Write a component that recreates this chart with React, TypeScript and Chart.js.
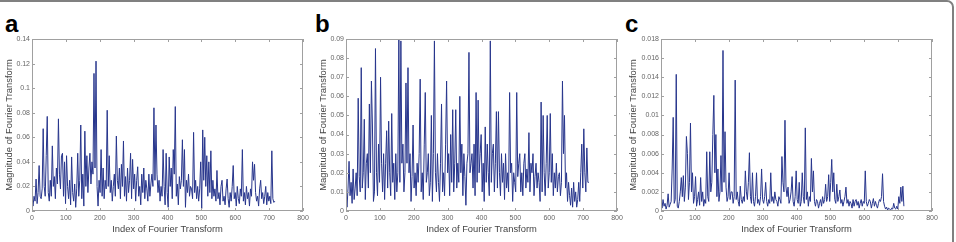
import React, { useEffect, useRef } from "react";
import { Chart, registerables } from "chart.js";

Chart.register(...registerables);

// ---- data (index of Fourier transform sampled every 3rd coefficient) ----
const SAMPLE_STEP = 3;
const xTicks = [0, 100, 200, 300, 400, 500, 600, 700, 800];
const xLabels = ["0", "100", "200", "300", "400", "500", "600", "700", "800"];

const yTicksA = [0, 0.02, 0.04, 0.06, 0.08, 0.1, 0.12, 0.14];
const yLabelsA = ["0", "0.02", "0.04", "0.06", "0.08", "0.1", "0.12", "0.14"];
const yTicksB = [0, 0.01, 0.02, 0.03, 0.04, 0.05, 0.06, 0.07, 0.08, 0.09];
const yLabelsB = ["0", "0.01", "0.02", "0.03", "0.04", "0.05", "0.06", "0.07", "0.08", "0.09"];
const yTicksC = [0, 0.002, 0.004, 0.006, 0.008, 0.01, 0.012, 0.014, 0.016, 0.018];
const yLabelsC = ["0", "0.002", "0.004", "0.006", "0.008", "0.01", "0.012", "0.014", "0.016", "0.018"];

const magnitudeA = [
  0.010, 0.004, 0.012, 0.008, 0.026, 0.006, 0.015, 0.037, 0.012, 0.010,
  0.018, 0.067, 0.020, 0.012, 0.045, 0.077, 0.015, 0.008, 0.025, 0.012,
  0.053, 0.020, 0.028, 0.010, 0.035, 0.022, 0.075, 0.030, 0.018, 0.045,
  0.047, 0.012, 0.040, 0.006, 0.045, 0.020, 0.010, 0.025, 0.005, 0.044,
  0.015, 0.008, 0.022, 0.003, 0.018, 0.047, 0.012, 0.025, 0.070, 0.010,
  0.030, 0.004, 0.065, 0.020, 0.045, 0.015, 0.035, 0.047, 0.022, 0.040,
  0.030, 0.112, 0.035, 0.122, 0.020, 0.004, 0.025, 0.015, 0.050, 0.012,
  0.035, 0.010, 0.025, 0.018, 0.082, 0.020, 0.045, 0.015, 0.025, 0.008,
  0.020, 0.030, 0.012, 0.061, 0.025, 0.018, 0.035, 0.010, 0.038, 0.020,
  0.057, 0.012, 0.028, 0.008, 0.035, 0.015, 0.025, 0.047, 0.010, 0.042,
  0.018, 0.030, 0.008, 0.025, 0.036, 0.012, 0.020, 0.005, 0.030, 0.015,
  0.035, 0.010, 0.025, 0.018, 0.008, 0.030, 0.012, 0.022, 0.030, 0.020,
  0.084, 0.025, 0.070, 0.030, 0.015, 0.025, 0.008, 0.020, 0.012, 0.050,
  0.020, 0.005, 0.047, 0.015, 0.003, 0.044, 0.020, 0.035, 0.010, 0.050,
  0.030, 0.085, 0.012, 0.022, 0.005, 0.028, 0.018, 0.025, 0.058, 0.020,
  0.050, 0.003, 0.025, 0.015, 0.030, 0.012, 0.020, 0.018, 0.010, 0.064,
  0.015, 0.025, 0.010, 0.020, 0.008, 0.018, 0.040, 0.002, 0.066, 0.025,
  0.060, 0.020, 0.045, 0.012, 0.040, 0.015, 0.049, 0.010, 0.025, 0.012,
  0.018, 0.008, 0.033, 0.010, 0.015, 0.005, 0.020, 0.025, 0.008, 0.012,
  0.005, 0.018, 0.026, 0.010, 0.003, 0.015, 0.008, 0.020, 0.037, 0.010,
  0.015, 0.004, 0.020, 0.010, 0.006, 0.018, 0.012, 0.050, 0.008, 0.015,
  0.005, 0.020, 0.010, 0.015, 0.004, 0.018, 0.012, 0.040, 0.025, 0.038,
  0.015, 0.008, 0.012, 0.004, 0.018, 0.025, 0.010, 0.015, 0.006, 0.012,
  0.020, 0.005, 0.015, 0.008, 0.012, 0.006, 0.049, 0.010, 0.007, 0.008,
];

const magnitudeB = [
  0.010, 0.002, 0.012, 0.026, 0.008, 0.015, 0.004, 0.022, 0.006, 0.012,
  0.020, 0.008, 0.059, 0.018, 0.010, 0.075, 0.012, 0.020, 0.048, 0.006,
  0.025, 0.030, 0.012, 0.056, 0.020, 0.068, 0.045, 0.005, 0.010, 0.085,
  0.020, 0.008, 0.035, 0.015, 0.070, 0.025, 0.010, 0.030, 0.006, 0.025,
  0.042, 0.012, 0.047, 0.020, 0.008, 0.051, 0.015, 0.025, 0.006, 0.030,
  0.010, 0.020, 0.090, 0.015, 0.089, 0.025, 0.035, 0.010, 0.020, 0.067,
  0.025, 0.075, 0.020, 0.030, 0.005, 0.018, 0.045, 0.012, 0.020, 0.008,
  0.025, 0.015, 0.030, 0.069, 0.010, 0.020, 0.006, 0.035, 0.062, 0.015,
  0.020, 0.030, 0.008, 0.015, 0.050, 0.005, 0.030, 0.089, 0.020, 0.010,
  0.030, 0.015, 0.005, 0.025, 0.056, 0.010, 0.020, 0.008, 0.035, 0.068,
  0.020, 0.030, 0.008, 0.040, 0.015, 0.053, 0.010, 0.025, 0.053, 0.012,
  0.025, 0.015, 0.060, 0.020, 0.035, 0.008, 0.030, 0.018, 0.003, 0.025,
  0.030, 0.083, 0.020, 0.025, 0.030, 0.012, 0.035, 0.008, 0.062, 0.015,
  0.058, 0.020, 0.030, 0.040, 0.010, 0.025, 0.005, 0.044, 0.015, 0.035,
  0.020, 0.008, 0.089, 0.015, 0.030, 0.035, 0.010, 0.025, 0.052, 0.012,
  0.052, 0.020, 0.008, 0.030, 0.015, 0.025, 0.006, 0.030, 0.012, 0.020,
  0.010, 0.062, 0.020, 0.025, 0.005, 0.020, 0.015, 0.010, 0.062, 0.018,
  0.025, 0.030, 0.010, 0.020, 0.008, 0.025, 0.030, 0.012, 0.022, 0.015,
  0.041, 0.010, 0.025, 0.020, 0.030, 0.008, 0.018, 0.025, 0.012, 0.020,
  0.015, 0.005, 0.057, 0.010, 0.050, 0.020, 0.008, 0.025, 0.050, 0.012,
  0.020, 0.051, 0.015, 0.030, 0.008, 0.020, 0.012, 0.025, 0.010, 0.018,
  0.020, 0.008, 0.015, 0.068, 0.030, 0.050, 0.012, 0.020, 0.005, 0.015,
  0.008, 0.003, 0.012, 0.002, 0.015, 0.005, 0.010, 0.002, 0.006, 0.015,
  0.005, 0.020, 0.035, 0.012, 0.043, 0.020, 0.010, 0.033, 0.015, 0.015,
];

const magnitudeC = [
  0.0010, 0.0003, 0.0012, 0.0005, 0.0008, 0.0002, 0.0006, 0.0018, 0.0004, 0.0007,
  0.0010, 0.0045, 0.0098, 0.0008, 0.0012, 0.0143, 0.0005, 0.0003, 0.0010, 0.0020,
  0.0035, 0.0015, 0.0037, 0.0010, 0.0025, 0.0078, 0.0060, 0.0012, 0.0030, 0.0092,
  0.0020, 0.0040, 0.0008, 0.0015, 0.0036, 0.0005, 0.0012, 0.0020, 0.0006, 0.0035,
  0.0010, 0.0020, 0.0005, 0.0012, 0.0008, 0.0062, 0.0015, 0.0010, 0.0062, 0.0020,
  0.0030, 0.0080, 0.0121, 0.0040, 0.0080, 0.0015, 0.0044, 0.0010, 0.0020, 0.0058,
  0.0020, 0.0168, 0.0030, 0.0083, 0.0025, 0.0010, 0.0015, 0.0040, 0.0012, 0.0020,
  0.0020, 0.0008, 0.0015, 0.0137, 0.0012, 0.0020, 0.0010, 0.0005, 0.0026, 0.0012,
  0.0008, 0.0015, 0.0010, 0.0042, 0.0020, 0.0012, 0.0030, 0.0061, 0.0015, 0.0008,
  0.0040, 0.0010, 0.0005, 0.0015, 0.0040, 0.0008, 0.0012, 0.0006, 0.0015, 0.0044,
  0.0012, 0.0008, 0.0015, 0.0030, 0.0010, 0.0005, 0.0012, 0.0008, 0.0040, 0.0010,
  0.0015, 0.0008, 0.0020, 0.0012, 0.0010, 0.0005, 0.0015, 0.0012, 0.0008, 0.0057,
  0.0030, 0.0020, 0.0095, 0.0025, 0.0015, 0.0025, 0.0008, 0.0012, 0.0020, 0.0036,
  0.0010, 0.0005, 0.0015, 0.0042, 0.0012, 0.0008, 0.0030, 0.0005, 0.0010, 0.0040,
  0.0015, 0.0008, 0.0087, 0.0012, 0.0020, 0.0005, 0.0015, 0.0010, 0.0055, 0.0020,
  0.0042, 0.0010, 0.0005, 0.0012, 0.0010, 0.0003, 0.0008, 0.0012, 0.0005, 0.0015,
  0.0008, 0.0012, 0.0028, 0.0010, 0.0015, 0.0038, 0.0010, 0.0030, 0.0054, 0.0020,
  0.0040, 0.0012, 0.0008, 0.0028, 0.0010, 0.0015, 0.0022, 0.0008, 0.0012, 0.0005,
  0.0010, 0.0015, 0.0025, 0.0008, 0.0012, 0.0005, 0.0010, 0.0008, 0.0003, 0.0012,
  0.0005, 0.0010, 0.0012, 0.0006, 0.0010, 0.0003, 0.0008, 0.0012, 0.0005, 0.0010,
  0.0008, 0.0042, 0.0010, 0.0005, 0.0008, 0.0012, 0.0010, 0.0003, 0.0008, 0.0013,
  0.0005, 0.0010, 0.0006, 0.0003, 0.0008, 0.0012, 0.0010, 0.0015, 0.0039, 0.0010,
  0.0005, 0.0002, 0.0004, 0.0001, 0.0003, 0.0002, 0.0001, 0.0003, 0.0002, 0.0008,
  0.0003, 0.0002, 0.0005, 0.0002, 0.0015, 0.0008, 0.0025, 0.0010, 0.0026, 0.0005,
];

// ---- style ----
const LINE_COLOR = "#27358c";
const AXIS_COLOR = "#a0a0a0";
const TICK_TEXT = "#666666";
const TITLE_TEXT = "#444444";
const FONT = "'Liberation Sans', Arial, Helvetica, sans-serif";

const boxPlugin = {
  id: "matlabBox",
  afterDraw(chart: any) {
    const { ctx, chartArea } = chart;
    const { left, right, top, bottom } = chartArea;
    const xs = chart.scales.x;
    const ys = chart.scales.y;
    ctx.save();
    ctx.strokeStyle = AXIS_COLOR;
    ctx.lineWidth = 1;
    ctx.strokeRect(Math.round(left) + 0.5, Math.round(top) + 0.5, Math.round(right - left) - 1, Math.round(bottom - top) - 1);
    ctx.beginPath();
    const tl = 3;
    xs.ticks.forEach((t: any) => {
      const px = Math.round(xs.getPixelForValue(t.value)) + 0.5;
      ctx.moveTo(px, bottom);
      ctx.lineTo(px, bottom - tl);
      ctx.moveTo(px, top);
      ctx.lineTo(px, top + tl);
    });
    ys.ticks.forEach((t: any) => {
      const py = Math.round(ys.getPixelForValue(t.value)) + 0.5;
      ctx.moveTo(left, py);
      ctx.lineTo(left + tl, py);
      ctx.moveTo(right, py);
      ctx.lineTo(right - tl, py);
    });
    ctx.stroke();
    ctx.restore();
  },
};

type PanelProps = {
  values: number[];
  yTicks: number[];
  yLabels: string[];
  left: number;
  axisWidth: number;
  titlePad: number;
};

const PLOT_WIDTH = 271;
const RIGHT_PAD = 15;
const HEIGHT = 242;

function Panel({ values, yTicks, yLabels, left, axisWidth, titlePad }: PanelProps) {
  const ref = useRef<HTMLCanvasElement | null>(null);
  const width = axisWidth + PLOT_WIDTH + RIGHT_PAD;

  useEffect(() => {
    if (!ref.current) return;
    const points = values.map((v, i) => ({ x: i * SAMPLE_STEP, y: v }));
    const chart = new Chart(ref.current, {
      type: "line",
      data: {
        datasets: [
          {
            data: points,
            borderColor: LINE_COLOR,
            borderWidth: 1,
            pointRadius: 0,
            tension: 0,
            fill: false,
          },
        ],
      },
      options: {
        responsive: false,
        animation: false,
        events: [],
        layout: { padding: { top: 39, right: RIGHT_PAD, left: 0, bottom: 0 } },
        plugins: { legend: { display: false }, tooltip: { enabled: false } },
        scales: {
          x: {
            type: "linear",
            min: 0,
            max: 800,
            afterBuildTicks: (s: any) => {
              s.ticks = xTicks.map((v) => ({ value: v }));
            },
            afterFit: (s: any) => {
              s.height = 31;
            },
            grid: { display: false, drawTicks: false, tickLength: 0 },
            border: { display: false },
            ticks: {
              autoSkip: false,
              maxRotation: 0,
              padding: 3,
              color: TICK_TEXT,
              font: { family: FONT, size: 7 },
              callback: (_v: any, i: number) => xLabels[i],
            },
            title: {
              display: true,
              text: "Index of Fourier Transform",
              color: TITLE_TEXT,
              font: { family: FONT, size: 9.4 },
              padding: { top: 0, bottom: 7 },
            },
          },
          y: {
            type: "linear",
            min: 0,
            max: yTicks[yTicks.length - 1],
            afterBuildTicks: (s: any) => {
              s.ticks = yTicks.map((v) => ({ value: v }));
            },
            afterFit: (s: any) => {
              s.width = axisWidth;
            },
            grid: { display: false, drawTicks: false, tickLength: 0 },
            border: { display: false },
            ticks: {
              autoSkip: false,
              padding: 2,
              color: TICK_TEXT,
              font: { family: FONT, size: 7 },
              callback: (_v: any, i: number) => yLabels[i],
            },
            title: {
              display: true,
              text: "Magnitude of Fourier Transform",
              color: TITLE_TEXT,
              font: { family: FONT, size: 9.4 },
              padding: { top: titlePad, bottom: 0 },
            },
          },
        },
      } as any,
      plugins: [boxPlugin],
    });
    return () => chart.destroy();
  }, []);

  return (
    <canvas
      ref={ref}
      width={width}
      height={HEIGHT}
      style={{ position: "absolute", left, top: 0, width, height: HEIGHT }}
    />
  );
}

const letterStyle = (left: number): React.CSSProperties => ({
  position: "absolute",
  left,
  top: 12,
  fontFamily: FONT,
  fontWeight: "bold",
  fontSize: 24,
  lineHeight: "24px",
  color: "#000",
});

export default function App() {
  return (
    <div
      style={{
        position: "fixed",
        left: 0,
        top: 0,
        width: 956,
        height: 242,
        overflow: "hidden",
        background: "#fff",
      }}
    >
      <div
        style={{
          position: "absolute",
          left: -10,
          top: 0,
          width: 964,
          height: 270,
          boxSizing: "border-box",
          border: "2px solid #808080",
          borderRadius: 7,
        }}
      />
      <div style={letterStyle(5)}>a</div>
      <div style={letterStyle(315)}>b</div>
      <div style={letterStyle(625)}>c</div>
      <Panel values={magnitudeA} yTicks={yTicksA} yLabels={yLabelsA} left={0} axisWidth={32} titlePad={4} />
      <Panel values={magnitudeB} yTicks={yTicksB} yLabels={yLabelsB} left={314} axisWidth={32} titlePad={3.5} />
      <Panel values={magnitudeC} yTicks={yTicksC} yLabels={yLabelsC} left={627} axisWidth={34} titlePad={0.5} />
    </div>
  );
}
